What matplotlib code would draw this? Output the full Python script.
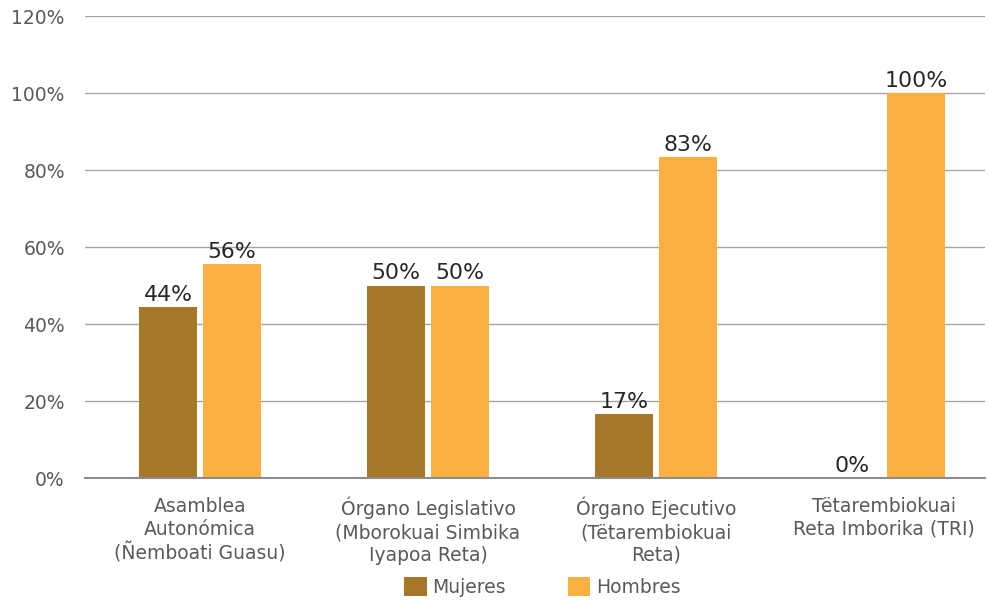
import matplotlib
matplotlib.use("Agg")
import matplotlib.pyplot as plt
import numpy as np

categories = ["Asamblea\nAutonómica\n(Ñemboati Guasu)",
              "Órgano Legislativo\n(Mborokuai Simbika\nIyapoa Reta)",
              "Órgano Ejecutivo\n(Tëtarembiokuai\nReta)",
              "Tëtarembiokuai\nReta Imborika (TRI)"]
mujeres = [44.4, 50.0, 16.67, 0.0]
hombres = [55.6, 50.0, 83.33, 100.0]
series_names = ["Mujeres", "Hombres"]
colors = ["#A67729", "#F9AF42"]

plt.rcParams['font.family'] = ['DejaVu Sans']
fig = plt.figure(figsize=(9.88, 6.0), dpi=100)
ax = fig.add_axes([0.086, 0.203, 0.911, 0.770])

x = np.arange(len(categories))
w = 0.254
off = 0.140
b1 = ax.bar(x - off, mujeres, w, color=colors[0], label=series_names[0], zorder=3)
b2 = ax.bar(x + off, hombres, w, color=colors[1], label=series_names[1], zorder=3)

for bars, vals in ((b1, mujeres), (b2, hombres)):
    for r, v in zip(bars, vals):
        ax.text(r.get_x() + r.get_width() / 2, v + 0.6, f"{v:.0f}%",
                ha="center", va="bottom", fontsize=15.8, color="#262626", zorder=4)

ax.set_xlim(-0.504, 3.443)
ax.set_ylim(0, 120)
ax.set_yticks(np.arange(0, 121, 20))
ax.set_yticklabels([f"{t}%" for t in range(0, 121, 20)])
ax.yaxis.grid(True, color="#A6A6A6", linewidth=1.0, zorder=0)
ax.set_axisbelow(True)
for s in ("top", "right", "left"):
    ax.spines[s].set_visible(False)
ax.spines["bottom"].set_color("#8C8C8C")
ax.spines["bottom"].set_linewidth(1.5)
ax.spines["bottom"].set_zorder(5)
ax.tick_params(axis="y", length=0, pad=14.5, labelsize=13.5, labelcolor="#595959")
ax.tick_params(axis="x", length=0, pad=13.5, labelsize=13.5, labelcolor="#595959")
ax.set_xticks(x)
ax.set_xticklabels(categories, linespacing=1.25)

leg = fig.legend(loc="center", bbox_to_anchor=(0.549, 0.022), ncol=2, frameon=False,
                 fontsize=13.5, handlelength=1.2, handleheight=1.2, columnspacing=3.3,
                 handletextpad=0.3)
for t in leg.get_texts():
    t.set_color("#595959")

fig.savefig("out.png", dpi=100)
